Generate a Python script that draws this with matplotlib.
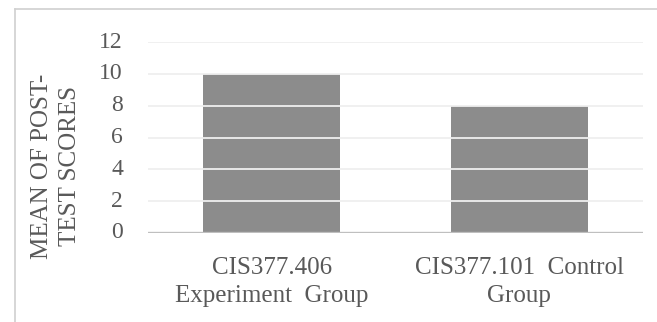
import matplotlib
matplotlib.use("Agg")
import matplotlib.pyplot as plt
from matplotlib.lines import Line2D

categories = ["CIS377.406\nExperiment  Group", "CIS377.101  Control\nGroup"]
means = [10, 8]
y_ticks = [0, 2, 4, 6, 8, 10, 12]
y_label = "MEAN OF POST-\nTEST SCORES"

W, H = 657, 322
fig = plt.figure(figsize=(W / 100, H / 100), dpi=100)
plt.rcParams["font.family"] = ["Liberation Serif", "DejaVu Serif"]
text_color = "#595959"

ax = fig.add_axes([148 / W, 1 - 233 / H, (643 - 148) / W, (233 - 42) / H])
x = list(range(len(categories)))
ax.bar(x, means, width=0.555, color="#8C8C8C", zorder=2)
ax.set_xlim(-0.5, len(categories) - 0.5)
ax.set_ylim(0, 12)
ax.set_yticks(y_ticks)
ax.set_yticklabels([str(t) for t in y_ticks], fontsize=17, color=text_color)
ax.set_xticks(x)
ax.set_xticklabels(categories, fontsize=18, color=text_color, linespacing=1.35)
ax.tick_params(axis="both", length=0)
ax.tick_params(axis="y", pad=18)
ax.tick_params(axis="x", pad=17)
for t in ax.get_yticklabels():
    t.set_verticalalignment("center")

# light gridlines drawn over the bars
for t in y_ticks[1:]:
    ax.axhline(t, color="#EFEFEF", linewidth=1.3, zorder=3)
ax.axhline(0, color="#BFBFBF", linewidth=2.4, zorder=4)

for s in ax.spines.values():
    s.set_visible(False)

fig.text(56 / W, 1 - 166 / H, y_label, rotation=90, ha="center", va="center",
         fontsize=18, color=text_color, linespacing=1.3, multialignment="center")

# chart frame
fig.add_artist(Line2D([15 / W, 1.0], [1 - 9 / H, 1 - 9 / H], transform=fig.transFigure,
                      color="#D0D0D0", linewidth=1.2))
fig.add_artist(Line2D([15 / W, 15 / W], [1 - 9 / H, 0.0], transform=fig.transFigure,
                      color="#D0D0D0", linewidth=1.2))

fig.savefig("out.png", dpi=100)
